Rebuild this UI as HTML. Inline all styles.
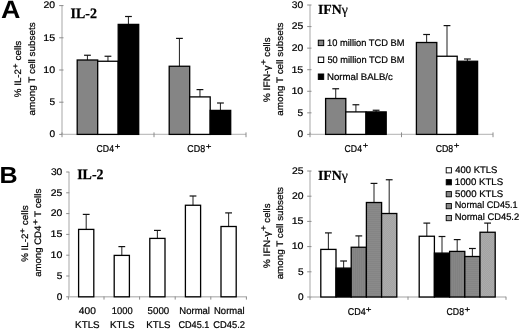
<!DOCTYPE html>
<html><head><meta charset="utf-8"><style>
html,body{margin:0;padding:0;background:#fff;width:520px;height:329px;overflow:hidden}
svg{display:block;filter:blur(0.3px)}
</style></head><body>
<svg width="520" height="329" viewBox="0 0 520 329" text-rendering="geometricPrecision">
<defs>
<pattern id="p5000" width="2" height="2" patternUnits="userSpaceOnUse"><rect width="2" height="2" fill="#818181"/><rect width="1" height="2" fill="#868686"/></pattern>
<pattern id="p451" width="2" height="2" patternUnits="userSpaceOnUse"><rect width="2" height="2" fill="#858585"/><rect width="2" height="1" fill="#8a8a8a"/></pattern>
<pattern id="p452" width="2" height="2" patternUnits="userSpaceOnUse"><rect width="2" height="2" fill="#a4a4a4"/><rect width="1" height="1" fill="#ababab"/><rect x="1" y="1" width="1" height="1" fill="#ababab"/></pattern>
</defs>
<rect width="520" height="329" fill="#fff"/>
<g font-family='"Liberation Sans", sans-serif' fill="#000">
<text x="1.03" y="18.4" font-weight="bold" font-size="25.2" textLength="19.40" lengthAdjust="spacingAndGlyphs">A</text>
<text x="-0.53" y="183.2" font-weight="bold" font-size="23.2" textLength="18.11" lengthAdjust="spacingAndGlyphs">B</text>
<text x="70.6" y="18.3" font-family='"Liberation Serif", serif' font-weight="bold" font-size="14.4" stroke="#000" stroke-width="0.25" textLength="26.3" lengthAdjust="spacingAndGlyphs">IL-2</text>
<text x="77.2" y="179.3" font-family='"Liberation Serif", serif' font-weight="bold" font-size="14.4" stroke="#000" stroke-width="0.25" textLength="26.3" lengthAdjust="spacingAndGlyphs">IL-2</text>
<text x="318" y="13.6" font-family='"Liberation Serif", serif' font-weight="bold" font-size="13.8" stroke="#000" stroke-width="0.2">IFN<tspan font-weight="normal">γ</tspan></text>
<text x="318" y="179.8" font-family='"Liberation Serif", serif' font-weight="bold" font-size="13.8" stroke="#000" stroke-width="0.2">IFN<tspan font-weight="normal">γ</tspan></text>
</g>
<g font-family='"Liberation Sans", sans-serif' fill="#000" stroke="#000" stroke-width="0.22">
<line x1="62" y1="5.6" x2="62" y2="134.4" stroke="#c0c0c0" stroke-width="1.4"/>
<line x1="59.2" y1="134.40" x2="63.5" y2="134.40" stroke="#8c8c8c" stroke-width="1"/>
<text transform="translate(49.50,137.25) scale(1,1.0)" font-size="9.6" textLength="5.62" lengthAdjust="spacingAndGlyphs">0</text>
<line x1="59.2" y1="102.20" x2="63.5" y2="102.20" stroke="#8c8c8c" stroke-width="1"/>
<text transform="translate(49.50,105.05) scale(1,1.0)" font-size="9.6" textLength="5.62" lengthAdjust="spacingAndGlyphs">5</text>
<line x1="59.2" y1="70.00" x2="63.5" y2="70.00" stroke="#8c8c8c" stroke-width="1"/>
<text transform="translate(43.30,72.85) scale(1,1.0)" font-size="9.6" textLength="11.85" lengthAdjust="spacingAndGlyphs">10</text>
<line x1="59.2" y1="37.80" x2="63.5" y2="37.80" stroke="#8c8c8c" stroke-width="1"/>
<text transform="translate(43.30,40.65) scale(1,1.0)" font-size="9.6" textLength="11.85" lengthAdjust="spacingAndGlyphs">15</text>
<line x1="59.2" y1="5.60" x2="63.5" y2="5.60" stroke="#8c8c8c" stroke-width="1"/>
<text transform="translate(43.58,8.45) scale(1,1.0)" font-size="9.6" textLength="11.56" lengthAdjust="spacingAndGlyphs">20</text>
<line x1="62" y1="134.4" x2="246" y2="134.4" stroke="#c0c0c0" stroke-width="1.4"/>
<line x1="62.00" y1="132.4" x2="62.00" y2="137.20000000000002" stroke="#8c8c8c" stroke-width="1"/>
<line x1="154.00" y1="132.4" x2="154.00" y2="137.20000000000002" stroke="#8c8c8c" stroke-width="1"/>
<line x1="246.00" y1="132.4" x2="246.00" y2="137.20000000000002" stroke="#8c8c8c" stroke-width="1"/>
<line x1="87.45" y1="55.25" x2="87.45" y2="60" stroke="#333" stroke-width="1.1"/>
<line x1="84.05" y1="55.25" x2="90.85" y2="55.25" stroke="#111" stroke-width="1.2"/>
<rect x="77.20" y="60" width="20.50" height="74.40" fill="#858585" stroke="#000" stroke-width="1.3"/>
<line x1="107.95" y1="56.25" x2="107.95" y2="61.25" stroke="#333" stroke-width="1.1"/>
<line x1="104.55" y1="56.25" x2="111.35" y2="56.25" stroke="#111" stroke-width="1.2"/>
<rect x="97.70" y="61.25" width="20.50" height="73.15" fill="#fff" stroke="#000" stroke-width="1.3"/>
<line x1="128.45" y1="16.5" x2="128.45" y2="24.4" stroke="#333" stroke-width="1.1"/>
<line x1="125.05" y1="16.5" x2="131.85" y2="16.5" stroke="#111" stroke-width="1.2"/>
<rect x="118.20" y="24.4" width="20.50" height="110.00" fill="#000" stroke="#000" stroke-width="1.3"/>
<line x1="179.45" y1="38.4" x2="179.45" y2="66.25" stroke="#333" stroke-width="1.1"/>
<line x1="176.05" y1="38.4" x2="182.85" y2="38.4" stroke="#111" stroke-width="1.2"/>
<rect x="169.20" y="66.25" width="20.50" height="68.15" fill="#858585" stroke="#000" stroke-width="1.3"/>
<line x1="199.95" y1="89.6" x2="199.95" y2="96.9" stroke="#333" stroke-width="1.1"/>
<line x1="196.55" y1="89.6" x2="203.35" y2="89.6" stroke="#111" stroke-width="1.2"/>
<rect x="189.70" y="96.9" width="20.50" height="37.50" fill="#fff" stroke="#000" stroke-width="1.3"/>
<line x1="220.45" y1="103" x2="220.45" y2="110.4" stroke="#333" stroke-width="1.1"/>
<line x1="217.05" y1="103" x2="223.85" y2="103" stroke="#111" stroke-width="1.2"/>
<rect x="210.20" y="110.4" width="20.50" height="24.00" fill="#000" stroke="#000" stroke-width="1.3"/>
<text transform="translate(96.57,151.70) scale(1,1.0)" font-size="9.9" textLength="17.40" lengthAdjust="spacingAndGlyphs">CD4</text>
<text transform="translate(114.63,148.51) scale(1,1.0)" font-size="8.0" textLength="5.54" lengthAdjust="spacingAndGlyphs">+</text>
<text transform="translate(187.35,151.70) scale(1,1.0)" font-size="9.9" textLength="17.81" lengthAdjust="spacingAndGlyphs">CD8</text>
<text transform="translate(205.82,148.51) scale(1,1.0)" font-size="8.0" textLength="5.66" lengthAdjust="spacingAndGlyphs">+</text>
<g transform="translate(21.4,96.9) rotate(-90)">
<text transform="translate(-0.24,0.00) scale(1,1.0)" font-size="9.4" textLength="28.13" lengthAdjust="spacingAndGlyphs">% IL-2</text>
<text transform="translate(28.05,-3.90) scale(1,1.0)" font-size="8.0" textLength="5.30" lengthAdjust="spacingAndGlyphs">+</text>
<text transform="translate(36.35,0.00) scale(1,1.0)" font-size="9.4" textLength="19.90" lengthAdjust="spacingAndGlyphs">cells</text>
</g>
<g transform="translate(35.4,115.1) rotate(-90)">
<text transform="translate(-0.34,0.00) scale(1,1.0)" font-size="9.4" textLength="93.07" lengthAdjust="spacingAndGlyphs">among T cell subsets</text>
</g>
<line x1="310" y1="5.0" x2="310" y2="134.4" stroke="#c0c0c0" stroke-width="1.4"/>
<line x1="307.2" y1="134.40" x2="311.5" y2="134.40" stroke="#8c8c8c" stroke-width="1"/>
<text transform="translate(297.60,137.25) scale(1,1.0)" font-size="9.6" textLength="5.62" lengthAdjust="spacingAndGlyphs">0</text>
<line x1="307.2" y1="112.84" x2="311.5" y2="112.84" stroke="#8c8c8c" stroke-width="1"/>
<text transform="translate(297.60,115.69) scale(1,1.0)" font-size="9.6" textLength="5.62" lengthAdjust="spacingAndGlyphs">5</text>
<line x1="307.2" y1="91.27" x2="311.5" y2="91.27" stroke="#8c8c8c" stroke-width="1"/>
<text transform="translate(291.40,94.12) scale(1,1.0)" font-size="9.6" textLength="11.85" lengthAdjust="spacingAndGlyphs">10</text>
<line x1="307.2" y1="69.71" x2="311.5" y2="69.71" stroke="#8c8c8c" stroke-width="1"/>
<text transform="translate(291.40,72.56) scale(1,1.0)" font-size="9.6" textLength="11.85" lengthAdjust="spacingAndGlyphs">15</text>
<line x1="307.2" y1="48.14" x2="311.5" y2="48.14" stroke="#8c8c8c" stroke-width="1"/>
<text transform="translate(291.68,50.99) scale(1,1.0)" font-size="9.6" textLength="11.56" lengthAdjust="spacingAndGlyphs">20</text>
<line x1="307.2" y1="26.58" x2="311.5" y2="26.58" stroke="#8c8c8c" stroke-width="1"/>
<text transform="translate(291.68,29.43) scale(1,1.0)" font-size="9.6" textLength="11.56" lengthAdjust="spacingAndGlyphs">25</text>
<line x1="307.2" y1="5.01" x2="311.5" y2="5.01" stroke="#8c8c8c" stroke-width="1"/>
<text transform="translate(291.79,7.86) scale(1,1.0)" font-size="9.6" textLength="11.45" lengthAdjust="spacingAndGlyphs">30</text>
<line x1="310" y1="134.4" x2="493" y2="134.4" stroke="#c0c0c0" stroke-width="1.4"/>
<line x1="310.00" y1="132.4" x2="310.00" y2="137.20000000000002" stroke="#8c8c8c" stroke-width="1"/>
<line x1="401.50" y1="132.4" x2="401.50" y2="137.20000000000002" stroke="#8c8c8c" stroke-width="1"/>
<line x1="493.00" y1="132.4" x2="493.00" y2="137.20000000000002" stroke="#8c8c8c" stroke-width="1"/>
<line x1="335.70" y1="88.75" x2="335.70" y2="98.5" stroke="#333" stroke-width="1.1"/>
<line x1="332.30" y1="88.75" x2="339.10" y2="88.75" stroke="#111" stroke-width="1.2"/>
<rect x="325.60" y="98.5" width="20.20" height="35.90" fill="#858585" stroke="#000" stroke-width="1.3"/>
<line x1="355.90" y1="104.75" x2="355.90" y2="111.9" stroke="#333" stroke-width="1.1"/>
<line x1="352.50" y1="104.75" x2="359.30" y2="104.75" stroke="#111" stroke-width="1.2"/>
<rect x="345.80" y="111.9" width="20.20" height="22.50" fill="#fff" stroke="#000" stroke-width="1.3"/>
<line x1="376.10" y1="110.25" x2="376.10" y2="111.9" stroke="#333" stroke-width="1.1"/>
<line x1="372.70" y1="110.25" x2="379.50" y2="110.25" stroke="#111" stroke-width="1.2"/>
<rect x="366.00" y="111.9" width="20.20" height="22.50" fill="#000" stroke="#000" stroke-width="1.3"/>
<line x1="426.60" y1="34.5" x2="426.60" y2="42.5" stroke="#333" stroke-width="1.1"/>
<line x1="423.20" y1="34.5" x2="430.00" y2="34.5" stroke="#111" stroke-width="1.2"/>
<rect x="416.40" y="42.5" width="20.40" height="91.90" fill="#858585" stroke="#000" stroke-width="1.3"/>
<line x1="447.00" y1="25.6" x2="447.00" y2="56.25" stroke="#333" stroke-width="1.1"/>
<line x1="443.60" y1="25.6" x2="450.40" y2="25.6" stroke="#111" stroke-width="1.2"/>
<rect x="436.80" y="56.25" width="20.40" height="78.15" fill="#fff" stroke="#000" stroke-width="1.3"/>
<line x1="467.40" y1="59" x2="467.40" y2="61.25" stroke="#333" stroke-width="1.1"/>
<line x1="464.00" y1="59" x2="470.80" y2="59" stroke="#111" stroke-width="1.2"/>
<rect x="457.20" y="61.25" width="20.40" height="73.15" fill="#000" stroke="#000" stroke-width="1.3"/>
<rect x="318.3" y="40.20" width="5.4" height="5.4" fill="#858585" stroke="#000" stroke-width="1"/>
<text transform="translate(327.10,45.80) scale(1,1.0)" font-size="9.6" textLength="77.36" lengthAdjust="spacingAndGlyphs">10 million TCD BM</text>
<rect x="318.3" y="57.10" width="5.4" height="5.4" fill="#fff" stroke="#000" stroke-width="1"/>
<text transform="translate(327.43,62.70) scale(1,1.0)" font-size="9.6" textLength="77.03" lengthAdjust="spacingAndGlyphs">50 million TCD BM</text>
<rect x="318.3" y="74.00" width="5.4" height="5.4" fill="#000" stroke="#000" stroke-width="1"/>
<text transform="translate(327.03,79.60) scale(1,1.0)" font-size="9.6" textLength="65.82" lengthAdjust="spacingAndGlyphs">Normal BALB/c</text>
<text transform="translate(344.57,151.70) scale(1,1.0)" font-size="9.9" textLength="17.40" lengthAdjust="spacingAndGlyphs">CD4</text>
<text transform="translate(362.74,148.21) scale(1,1.0)" font-size="8.0" textLength="5.42" lengthAdjust="spacingAndGlyphs">+</text>
<text transform="translate(435.66,151.70) scale(1,1.0)" font-size="9.9" textLength="17.49" lengthAdjust="spacingAndGlyphs">CD8</text>
<text transform="translate(453.82,148.21) scale(1,1.0)" font-size="8.0" textLength="5.66" lengthAdjust="spacingAndGlyphs">+</text>
<g transform="translate(270.0,102.1) rotate(-90)">
<text transform="translate(-0.26,0.00) scale(1,1.0)" font-size="9.4" textLength="36.92" lengthAdjust="spacingAndGlyphs">% IFN-γ</text>
<text transform="translate(37.12,-3.90) scale(1,1.0)" font-size="8.0" textLength="5.66" lengthAdjust="spacingAndGlyphs">+</text>
<text transform="translate(45.47,0.00) scale(1,1.0)" font-size="9.4" textLength="19.07" lengthAdjust="spacingAndGlyphs">cells</text>
</g>
<g transform="translate(283.2,115.4) rotate(-90)">
<text transform="translate(-0.34,0.00) scale(1,1.0)" font-size="9.4" textLength="93.07" lengthAdjust="spacingAndGlyphs">among T cell subsets</text>
</g>
<line x1="69" y1="172" x2="69" y2="296.8" stroke="#c0c0c0" stroke-width="1.4"/>
<line x1="66.2" y1="296.80" x2="69.3" y2="296.80" stroke="#8c8c8c" stroke-width="1"/>
<text transform="translate(56.70,299.65) scale(1,1.0)" font-size="9.6" textLength="5.62" lengthAdjust="spacingAndGlyphs">0</text>
<line x1="66.2" y1="276.00" x2="69.3" y2="276.00" stroke="#8c8c8c" stroke-width="1"/>
<text transform="translate(56.70,278.85) scale(1,1.0)" font-size="9.6" textLength="5.62" lengthAdjust="spacingAndGlyphs">5</text>
<line x1="66.2" y1="255.20" x2="69.3" y2="255.20" stroke="#8c8c8c" stroke-width="1"/>
<text transform="translate(50.50,258.05) scale(1,1.0)" font-size="9.6" textLength="11.85" lengthAdjust="spacingAndGlyphs">10</text>
<line x1="66.2" y1="234.40" x2="69.3" y2="234.40" stroke="#8c8c8c" stroke-width="1"/>
<text transform="translate(50.50,237.25) scale(1,1.0)" font-size="9.6" textLength="11.85" lengthAdjust="spacingAndGlyphs">15</text>
<line x1="66.2" y1="213.60" x2="69.3" y2="213.60" stroke="#8c8c8c" stroke-width="1"/>
<text transform="translate(50.78,216.45) scale(1,1.0)" font-size="9.6" textLength="11.56" lengthAdjust="spacingAndGlyphs">20</text>
<line x1="66.2" y1="192.80" x2="69.3" y2="192.80" stroke="#8c8c8c" stroke-width="1"/>
<text transform="translate(50.78,195.65) scale(1,1.0)" font-size="9.6" textLength="11.56" lengthAdjust="spacingAndGlyphs">25</text>
<line x1="66.2" y1="172.00" x2="69.3" y2="172.00" stroke="#8c8c8c" stroke-width="1"/>
<text transform="translate(50.89,174.85) scale(1,1.0)" font-size="9.6" textLength="11.45" lengthAdjust="spacingAndGlyphs">30</text>
<line x1="68.6" y1="296.8" x2="246.4" y2="296.8" stroke="#c0c0c0" stroke-width="1.4"/>
<line x1="68.40" y1="296.5" x2="68.40" y2="299.6" stroke="#8c8c8c" stroke-width="1"/>
<line x1="104.00" y1="296.5" x2="104.00" y2="299.6" stroke="#8c8c8c" stroke-width="1"/>
<line x1="139.60" y1="296.5" x2="139.60" y2="299.6" stroke="#8c8c8c" stroke-width="1"/>
<line x1="175.20" y1="296.5" x2="175.20" y2="299.6" stroke="#8c8c8c" stroke-width="1"/>
<line x1="210.80" y1="296.5" x2="210.80" y2="299.6" stroke="#8c8c8c" stroke-width="1"/>
<line x1="246.40" y1="296.5" x2="246.40" y2="299.6" stroke="#8c8c8c" stroke-width="1"/>
<line x1="86.20" y1="214.4" x2="86.20" y2="229.4" stroke="#333" stroke-width="1.1"/>
<line x1="82.80" y1="214.4" x2="89.60" y2="214.4" stroke="#111" stroke-width="1.2"/>
<rect x="78.60" y="229.4" width="15.20" height="67.40" fill="#fff" stroke="#000" stroke-width="1.3"/>
<line x1="121.80" y1="246.6" x2="121.80" y2="255.4" stroke="#333" stroke-width="1.1"/>
<line x1="118.40" y1="246.6" x2="125.20" y2="246.6" stroke="#111" stroke-width="1.2"/>
<rect x="114.20" y="255.4" width="15.20" height="41.40" fill="#fff" stroke="#000" stroke-width="1.3"/>
<line x1="157.40" y1="230.4" x2="157.40" y2="238.4" stroke="#333" stroke-width="1.1"/>
<line x1="154.00" y1="230.4" x2="160.80" y2="230.4" stroke="#111" stroke-width="1.2"/>
<rect x="149.80" y="238.4" width="15.20" height="58.40" fill="#fff" stroke="#000" stroke-width="1.3"/>
<line x1="193.00" y1="196" x2="193.00" y2="205.25" stroke="#333" stroke-width="1.1"/>
<line x1="189.60" y1="196" x2="196.40" y2="196" stroke="#111" stroke-width="1.2"/>
<rect x="185.40" y="205.25" width="15.20" height="91.55" fill="#fff" stroke="#000" stroke-width="1.3"/>
<line x1="228.60" y1="212.9" x2="228.60" y2="226.5" stroke="#333" stroke-width="1.1"/>
<line x1="225.20" y1="212.9" x2="232.00" y2="212.9" stroke="#111" stroke-width="1.2"/>
<rect x="221.00" y="226.5" width="15.20" height="70.30" fill="#fff" stroke="#000" stroke-width="1.3"/>
<text transform="translate(78.85,314.30) scale(1,1.0)" font-size="9.8" textLength="17.00" lengthAdjust="spacingAndGlyphs">400</text>
<text transform="translate(111.80,314.30) scale(1,1.0)" font-size="9.8" textLength="20.77" lengthAdjust="spacingAndGlyphs">1000</text>
<text transform="translate(147.61,314.30) scale(1,1.0)" font-size="9.8" textLength="21.57" lengthAdjust="spacingAndGlyphs">5000</text>
<text transform="translate(179.34,314.30) scale(1,1.0)" font-size="9.8" textLength="30.60" lengthAdjust="spacingAndGlyphs">Normal</text>
<text transform="translate(214.04,314.30) scale(1,1.0)" font-size="9.8" textLength="30.50" lengthAdjust="spacingAndGlyphs">Normal</text>
<text transform="translate(75.12,327.50) scale(1,1.0)" font-size="9.8" textLength="24.54" lengthAdjust="spacingAndGlyphs">KTLS</text>
<text transform="translate(110.02,327.50) scale(1,1.0)" font-size="9.8" textLength="24.54" lengthAdjust="spacingAndGlyphs">KTLS</text>
<text transform="translate(146.33,327.50) scale(1,1.0)" font-size="9.8" textLength="24.22" lengthAdjust="spacingAndGlyphs">KTLS</text>
<text transform="translate(178.44,327.50) scale(1,1.0)" font-size="9.8" textLength="30.92" lengthAdjust="spacingAndGlyphs">CD45.1</text>
<text transform="translate(213.33,327.50) scale(1,1.0)" font-size="9.8" textLength="31.64" lengthAdjust="spacingAndGlyphs">CD45.2</text>
<g transform="translate(28.4,261.5) rotate(-90)">
<text transform="translate(-0.24,0.00) scale(1,1.0)" font-size="9.4" textLength="28.13" lengthAdjust="spacingAndGlyphs">% IL-2</text>
<text transform="translate(28.05,-3.90) scale(1,1.0)" font-size="8.0" textLength="5.30" lengthAdjust="spacingAndGlyphs">+</text>
<text transform="translate(36.35,0.00) scale(1,1.0)" font-size="9.4" textLength="19.90" lengthAdjust="spacingAndGlyphs">cells</text>
</g>
<g transform="translate(41.3,276.5) rotate(-90)">
<text transform="translate(-0.33,0.00) scale(1,1.0)" font-size="9.4" textLength="51.13" lengthAdjust="spacingAndGlyphs">among CD4</text>
<text transform="translate(51.51,-3.60) scale(1,1.0)" font-size="8.0" textLength="5.78" lengthAdjust="spacingAndGlyphs">+</text>
<text transform="translate(59.50,0.00) scale(1,1.0)" font-size="9.4" textLength="28.46" lengthAdjust="spacingAndGlyphs">T cells</text>
</g>
<line x1="310" y1="171" x2="310" y2="297" stroke="#c0c0c0" stroke-width="1.4"/>
<line x1="307.2" y1="297.00" x2="311.5" y2="297.00" stroke="#8c8c8c" stroke-width="1"/>
<text transform="translate(297.90,299.85) scale(1,1.0)" font-size="9.6" textLength="5.62" lengthAdjust="spacingAndGlyphs">0</text>
<line x1="307.2" y1="271.80" x2="311.5" y2="271.80" stroke="#8c8c8c" stroke-width="1"/>
<text transform="translate(297.90,274.65) scale(1,1.0)" font-size="9.6" textLength="5.62" lengthAdjust="spacingAndGlyphs">5</text>
<line x1="307.2" y1="246.60" x2="311.5" y2="246.60" stroke="#8c8c8c" stroke-width="1"/>
<text transform="translate(291.70,249.45) scale(1,1.0)" font-size="9.6" textLength="11.85" lengthAdjust="spacingAndGlyphs">10</text>
<line x1="307.2" y1="221.40" x2="311.5" y2="221.40" stroke="#8c8c8c" stroke-width="1"/>
<text transform="translate(291.70,224.25) scale(1,1.0)" font-size="9.6" textLength="11.85" lengthAdjust="spacingAndGlyphs">15</text>
<line x1="307.2" y1="196.20" x2="311.5" y2="196.20" stroke="#8c8c8c" stroke-width="1"/>
<text transform="translate(291.98,199.05) scale(1,1.0)" font-size="9.6" textLength="11.56" lengthAdjust="spacingAndGlyphs">20</text>
<line x1="307.2" y1="171.00" x2="311.5" y2="171.00" stroke="#8c8c8c" stroke-width="1"/>
<text transform="translate(291.98,173.85) scale(1,1.0)" font-size="9.6" textLength="11.56" lengthAdjust="spacingAndGlyphs">25</text>
<line x1="310" y1="297" x2="506" y2="297" stroke="#c0c0c0" stroke-width="1.4"/>
<line x1="310.00" y1="296.7" x2="310.00" y2="299.8" stroke="#8c8c8c" stroke-width="1"/>
<line x1="408.00" y1="296.7" x2="408.00" y2="299.8" stroke="#8c8c8c" stroke-width="1"/>
<line x1="506.00" y1="296.7" x2="506.00" y2="299.8" stroke="#8c8c8c" stroke-width="1"/>
<line x1="328.40" y1="232.9" x2="328.40" y2="249.4" stroke="#333" stroke-width="1.1"/>
<line x1="325.00" y1="232.9" x2="331.80" y2="232.9" stroke="#111" stroke-width="1.2"/>
<rect x="320.80" y="249.4" width="15.20" height="47.60" fill="#fff" stroke="#000" stroke-width="1.3"/>
<line x1="343.60" y1="261" x2="343.60" y2="268.1" stroke="#333" stroke-width="1.1"/>
<line x1="340.20" y1="261" x2="347.00" y2="261" stroke="#111" stroke-width="1.2"/>
<rect x="336.00" y="268.1" width="15.20" height="28.90" fill="#000" stroke="#000" stroke-width="1.3"/>
<line x1="358.80" y1="235.9" x2="358.80" y2="247.25" stroke="#333" stroke-width="1.1"/>
<line x1="355.40" y1="235.9" x2="362.20" y2="235.9" stroke="#111" stroke-width="1.2"/>
<rect x="351.20" y="247.25" width="15.20" height="49.75" fill="url(#p5000)" stroke="#000" stroke-width="1.3"/>
<line x1="374.00" y1="183.4" x2="374.00" y2="202.5" stroke="#333" stroke-width="1.1"/>
<line x1="370.60" y1="183.4" x2="377.40" y2="183.4" stroke="#111" stroke-width="1.2"/>
<rect x="366.40" y="202.5" width="15.20" height="94.50" fill="url(#p451)" stroke="#000" stroke-width="1.3"/>
<line x1="389.20" y1="179.75" x2="389.20" y2="213.5" stroke="#333" stroke-width="1.1"/>
<line x1="385.80" y1="179.75" x2="392.60" y2="179.75" stroke="#111" stroke-width="1.2"/>
<rect x="381.60" y="213.5" width="15.20" height="83.50" fill="url(#p452)" stroke="#000" stroke-width="1.3"/>
<line x1="426.80" y1="223.1" x2="426.80" y2="236.25" stroke="#333" stroke-width="1.1"/>
<line x1="423.40" y1="223.1" x2="430.20" y2="223.1" stroke="#111" stroke-width="1.2"/>
<rect x="419.20" y="236.25" width="15.20" height="60.75" fill="#fff" stroke="#000" stroke-width="1.3"/>
<line x1="442.00" y1="236.5" x2="442.00" y2="253.1" stroke="#333" stroke-width="1.1"/>
<line x1="438.60" y1="236.5" x2="445.40" y2="236.5" stroke="#111" stroke-width="1.2"/>
<rect x="434.40" y="253.1" width="15.20" height="43.90" fill="#000" stroke="#000" stroke-width="1.3"/>
<line x1="457.20" y1="239.6" x2="457.20" y2="251.4" stroke="#333" stroke-width="1.1"/>
<line x1="453.80" y1="239.6" x2="460.60" y2="239.6" stroke="#111" stroke-width="1.2"/>
<rect x="449.60" y="251.4" width="15.20" height="45.60" fill="url(#p5000)" stroke="#000" stroke-width="1.3"/>
<line x1="472.40" y1="248.5" x2="472.40" y2="256.5" stroke="#333" stroke-width="1.1"/>
<line x1="469.00" y1="248.5" x2="475.80" y2="248.5" stroke="#111" stroke-width="1.2"/>
<rect x="464.80" y="256.5" width="15.20" height="40.50" fill="url(#p451)" stroke="#000" stroke-width="1.3"/>
<line x1="487.60" y1="223.1" x2="487.60" y2="232.25" stroke="#333" stroke-width="1.1"/>
<line x1="484.20" y1="223.1" x2="491.00" y2="223.1" stroke="#111" stroke-width="1.2"/>
<rect x="480.00" y="232.25" width="15.20" height="64.75" fill="url(#p452)" stroke="#000" stroke-width="1.3"/>
<rect x="446.2" y="167.70" width="5.2" height="5.2" fill="#fff" stroke="#000" stroke-width="0.9"/>
<text transform="translate(455.26,172.60) scale(1,1.0)" font-size="9.6" textLength="42.19" lengthAdjust="spacingAndGlyphs">400 KTLS</text>
<rect x="446.2" y="179.65" width="5.2" height="5.2" fill="#000" stroke="#000" stroke-width="0.9"/>
<text transform="translate(454.77,184.55) scale(1,1.0)" font-size="9.6" textLength="48.40" lengthAdjust="spacingAndGlyphs">1000 KTLS</text>
<rect x="446.2" y="191.60" width="5.2" height="5.2" fill="url(#p5000)" stroke="#000" stroke-width="0.9"/>
<text transform="translate(455.12,196.50) scale(1,1.0)" font-size="9.6" textLength="48.05" lengthAdjust="spacingAndGlyphs">5000 KTLS</text>
<rect x="446.2" y="203.55" width="5.2" height="5.2" fill="url(#p451)" stroke="#000" stroke-width="0.9"/>
<text transform="translate(454.77,208.45) scale(1,1.0)" font-size="9.6" textLength="62.90" lengthAdjust="spacingAndGlyphs">Normal CD45.1</text>
<rect x="446.2" y="215.50" width="5.2" height="5.2" fill="url(#p452)" stroke="#000" stroke-width="0.9"/>
<text transform="translate(454.75,220.40) scale(1,1.0)" font-size="9.6" textLength="64.43" lengthAdjust="spacingAndGlyphs">Normal CD45.2</text>
<text transform="translate(347.65,315.30) scale(1,1.0)" font-size="9.9" textLength="18.03" lengthAdjust="spacingAndGlyphs">CD4</text>
<text transform="translate(365.82,311.81) scale(1,1.0)" font-size="8.0" textLength="5.66" lengthAdjust="spacingAndGlyphs">+</text>
<text transform="translate(446.56,315.30) scale(1,1.0)" font-size="9.9" textLength="17.49" lengthAdjust="spacingAndGlyphs">CD8</text>
<text transform="translate(464.42,311.81) scale(1,1.0)" font-size="8.0" textLength="5.66" lengthAdjust="spacingAndGlyphs">+</text>
<g transform="translate(270.1,268.1) rotate(-90)">
<text transform="translate(-0.26,0.00) scale(1,1.0)" font-size="9.4" textLength="36.92" lengthAdjust="spacingAndGlyphs">% IFN-γ</text>
<text transform="translate(37.12,-3.90) scale(1,1.0)" font-size="8.0" textLength="5.66" lengthAdjust="spacingAndGlyphs">+</text>
<text transform="translate(45.47,0.00) scale(1,1.0)" font-size="9.4" textLength="19.07" lengthAdjust="spacingAndGlyphs">cells</text>
</g>
<g transform="translate(283.3,279.0) rotate(-90)">
<text transform="translate(-0.34,0.00) scale(1,1.0)" font-size="9.4" textLength="92.36" lengthAdjust="spacingAndGlyphs">among T cell subsets</text>
</g>
</g>
</svg>
</body></html>
